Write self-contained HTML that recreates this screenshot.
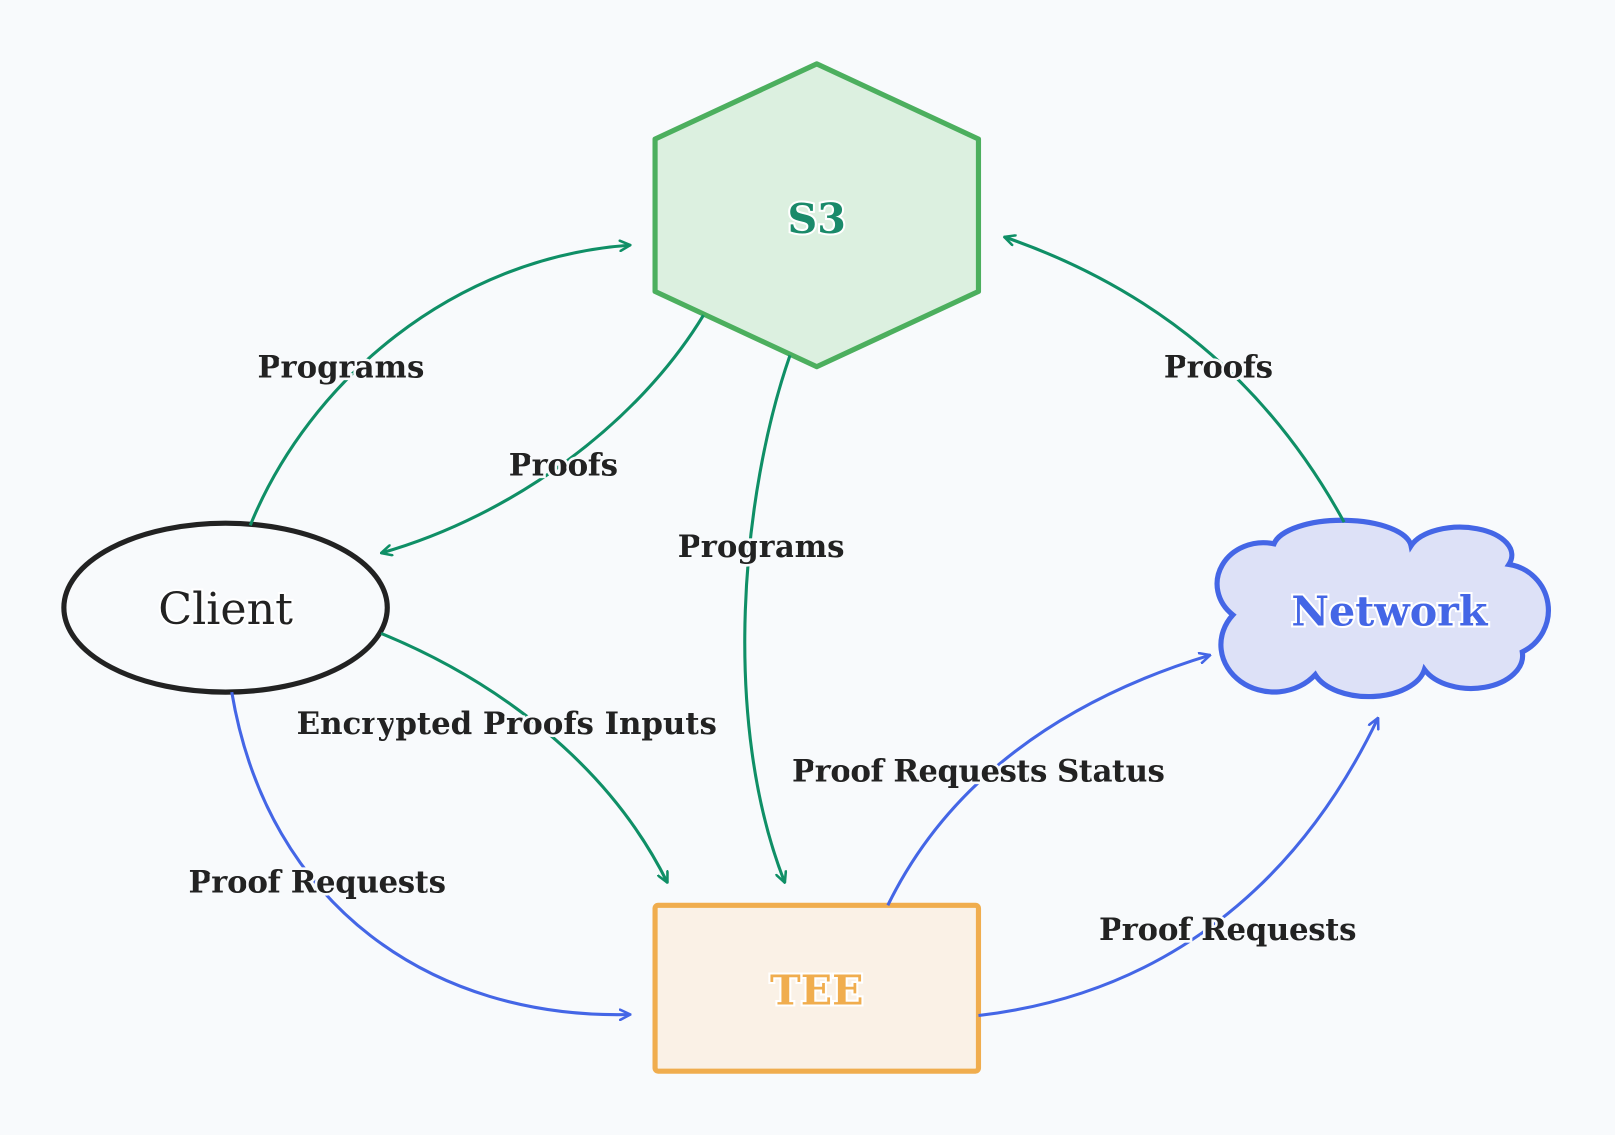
<!DOCTYPE html>
<html><head><meta charset="utf-8"><style>
html,body{margin:0;padding:0;background:#f8fafc;}
svg{display:block}
text{font-family:"DejaVu Serif","Liberation Serif",serif;}
.l{font-size:30px;font-weight:bold;fill:#222;stroke:#f8fafc;stroke-width:5px;paint-order:stroke;text-anchor:middle;dominant-baseline:central}
.e{fill:none;stroke-width:3}
</style></head><body>
<svg width="1615" height="1135" viewBox="0 0 1568 1102">
<defs>
<marker id="g" viewBox="0 0 12 12" refX="11" refY="6" markerWidth="12" markerHeight="12" markerUnits="userSpaceOnUse" orient="auto"><path d="M1,1 L11,6 L1,11" fill="none" stroke="#0f8f66" stroke-width="2.5" stroke-linecap="round"/></marker>
<marker id="b" viewBox="0 0 12 12" refX="11" refY="6" markerWidth="12" markerHeight="12" markerUnits="userSpaceOnUse" orient="auto"><path d="M1,1 L11,6 L1,11" fill="none" stroke="#4466e6" stroke-width="2.5" stroke-linecap="round"/></marker>
</defs>
<rect width="1568" height="1102" fill="#f8fafc"/>
<polygon points="793,62 950,135 950,283 793,356 636,283 636,135" fill="#dcf0e0" stroke="#4caf5e" stroke-width="5" stroke-linejoin="round"/>
<ellipse cx="219" cy="590" rx="157" ry="82" fill="#f8fafc" stroke="#222" stroke-width="5"/>
<path d="M1237,528 A67,27 0 0 1 1370,530 A50,27 0 0 1 1465,548 A45,45 0 0 1 1478,633 A50,32 0 0 1 1383,650 A55,32 0 0 1 1277,655 A45,40 0 0 1 1197,597 A45,40 0 0 1 1237,528 Z" fill="#dde1f7" stroke="#4466e6" stroke-width="5"/>
<rect x="636" y="879" width="314" height="161" rx="3" fill="#faf1e6" stroke="#f0ad4e" stroke-width="5"/>

<path class="e" stroke="#0f8f66" d="M243,510 C300,370 440,250 612,238" marker-end="url(#g)"/>
<path class="e" stroke="#0f8f66" d="M683,306 C620,410 500,500 370,537" marker-end="url(#g)"/>
<path class="e" stroke="#0f8f66" d="M767,345 C720,480 700,700 762,857" marker-end="url(#g)"/>
<path class="e" stroke="#0f8f66" d="M370,615 C480,660 590,740 648,857" marker-end="url(#g)"/>
<path class="e" stroke="#0f8f66" d="M1305,507 C1230,370 1120,280 975,230" marker-end="url(#g)"/>
<path class="e" stroke="#4466e6" d="M225,672 C260,880 420,990 612,985" marker-end="url(#b)"/>
<path class="e" stroke="#4466e6" d="M862,879 C920,760 1030,680 1175,636" marker-end="url(#b)"/>
<path class="e" stroke="#4466e6" d="M950,986 C1130,965 1260,860 1338,697" marker-end="url(#b)"/>

<text class="l" x="331" y="357" textLength="162">Programs</text>
<text class="l" x="547" y="452" textLength="106">Proofs</text>
<text class="l" x="739" y="531" textLength="162">Programs</text>
<text class="l" x="492" y="703" textLength="408">Encrypted Proofs Inputs</text>
<text class="l" x="1183" y="357" textLength="106">Proofs</text>
<text class="l" x="950" y="749" textLength="362">Proof Requests Status</text>
<text class="l" x="308" y="857" textLength="250">Proof Requests</text>
<text class="l" x="1192" y="903" textLength="250">Proof Requests</text>

<text x="793" y="212" text-anchor="middle" dominant-baseline="central" font-size="40" font-weight="bold" fill="#1a8a6a" stroke="#fff" stroke-width="4" paint-order="stroke">S3</text>
<text x="219" y="592" text-anchor="middle" dominant-baseline="central" font-size="43" fill="#222" stroke="#fff" stroke-width="4" paint-order="stroke">Client</text>
<text x="1349" y="593" text-anchor="middle" dominant-baseline="central" font-size="40" font-weight="bold" fill="#4466e6" stroke="#fff" stroke-width="4" paint-order="stroke">Network</text>
<text x="793" y="961" text-anchor="middle" dominant-baseline="central" font-size="40" font-weight="bold" fill="#f0ad4e" stroke="#fff" stroke-width="4" paint-order="stroke">TEE</text>
</svg>
</body></html>
